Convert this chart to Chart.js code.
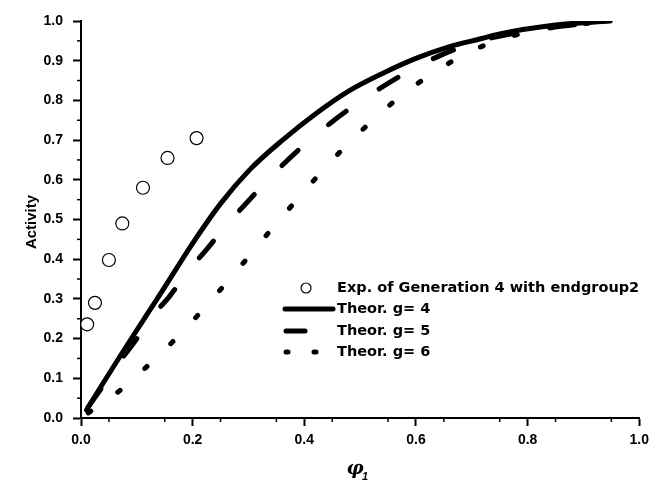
<!DOCTYPE html>
<html>
<head>
<meta charset="utf-8">
<script src="https://cdn.jsdelivr.net/npm/chart.js@4"></script>
<style>
  html, body { margin: 0; padding: 0; background: #fff; }
  #wrap { width: 655px; height: 487px; position: relative; }
</style>
</head>
<body>
<div id="wrap"><canvas id="my-chart" width="655" height="487"></canvas></div>
<script>
// experimental points
const expX = [0.011, 0.025, 0.05, 0.074, 0.111, 0.155, 0.207];
const expY = [0.236, 0.29, 0.398, 0.49, 0.58, 0.655, 0.705];

// theory curves
const g4X = [0.01, 0.022, 0.082, 0.141, 0.2, 0.25, 0.302, 0.361, 0.421, 0.48, 0.54, 0.6, 0.659, 0.718, 0.748, 0.85, 0.948];
const g4Y = [0.02, 0.048, 0.182, 0.31, 0.44, 0.54, 0.625, 0.7, 0.767, 0.824, 0.868, 0.906, 0.935, 0.956, 0.967, 0.99, 1.0];

const g5X = [0.013, 0.034, 0.067, 0.095, 0.126, 0.159, 0.192, 0.224, 0.263, 0.296, 0.36, 0.446, 0.532, 0.616, 0.7, 0.8, 0.948];
const g5Y = [0.028, 0.07, 0.138, 0.19, 0.254, 0.307, 0.371, 0.423, 0.49, 0.541, 0.636, 0.742, 0.827, 0.895, 0.944, 0.975, 1.0];

const g6X = [0.013, 0.065, 0.116, 0.167, 0.214, 0.257, 0.3, 0.342, 0.385, 0.43, 0.477, 0.528, 0.579, 0.63, 0.682, 0.732, 0.78, 0.85, 0.948];
const g6Y = [0.013, 0.064, 0.127, 0.196, 0.266, 0.335, 0.406, 0.477, 0.547, 0.619, 0.689, 0.757, 0.818, 0.868, 0.912, 0.944, 0.965, 0.985, 1.0];

const labels = ['Exp. of Generation 4 with endgroup2', 'Theor. g= 4', 'Theor. g= 5', 'Theor. g= 6'];
const xTitle = 'φ';
const yTitle = 'Activity';

const toPts = (xs, ys) => xs.map((x, i) => ({ x, y: ys[i] }));

const lineSet = (label, xs, ys, dash) => ({
  label,
  data: toPts(xs, ys),
  showLine: true,
  borderColor: '#000',
  borderWidth: 5,
  borderDash: dash,
  borderCapStyle: 'round',
  pointRadius: 0,
  cubicInterpolationMode: 'monotone',
  fill: false
});

// legend, minor ticks and axis titles drawn on the canvas
const extras = {
  id: 'extras',
  afterDraw(chart) {
    const ctx = chart.ctx;
    const xs = chart.scales.x, ys = chart.scales.y;
    ctx.save();
    ctx.strokeStyle = '#000';
    ctx.lineWidth = 1.5;
    // minor ticks
    for (let v = 0.05; v < 1; v += 0.1) {
      const px = xs.getPixelForValue(v);
      ctx.beginPath(); ctx.moveTo(px, xs.top); ctx.lineTo(px, xs.top + 4); ctx.stroke();
      const py = ys.getPixelForValue(v);
      ctx.beginPath(); ctx.moveTo(ys.right, py); ctx.lineTo(ys.right - 4, py); ctx.stroke();
    }

    // axis titles
    ctx.fillStyle = '#000';
    ctx.font = 'bold 15px "Liberation Sans", Arial, sans-serif';
    ctx.textAlign = 'center';
    ctx.textBaseline = 'middle';
    ctx.save();
    ctx.translate(32, 222);
    ctx.rotate(-Math.PI / 2);
    ctx.fillText(yTitle, 0, 0);
    ctx.restore();

    ctx.font = 'bold italic 19px "DejaVu Serif", serif';
    ctx.fillText(xTitle, 355, 469);
    ctx.font = 'bold italic 11px "Liberation Sans", Arial, sans-serif';
    ctx.fillText('1', 365, 477);

    // legend
    const rows = [288, 309, 331, 352];
    ctx.font = 'bold 14.5px "DejaVu Sans", Verdana, sans-serif';
    ctx.textAlign = 'left';
    chart.data.datasets.forEach((ds, i) => {
      const y = rows[i];
      ctx.fillText(ds.label, 337, y);
      ctx.lineWidth = 5;
      ctx.lineCap = 'round';
      if (i === 0) {
        ctx.lineWidth = 1.2;
        ctx.beginPath(); ctx.arc(306, y, 5, 0, Math.PI * 2); ctx.fillStyle = '#fff'; ctx.fill(); ctx.stroke();
        ctx.fillStyle = '#000';
      } else if (i === 1) {
        ctx.beginPath(); ctx.moveTo(285, y); ctx.lineTo(333, y); ctx.stroke();
      } else if (i === 2) {
        ctx.beginPath(); ctx.moveTo(286, y); ctx.lineTo(305, y); ctx.stroke();
      } else {
        ctx.beginPath(); ctx.moveTo(286, y); ctx.lineTo(288, y); ctx.stroke();
        ctx.beginPath(); ctx.moveTo(314, y); ctx.lineTo(316, y); ctx.stroke();
      }
    });
    ctx.restore();
  }
};

const ctx = document.getElementById('my-chart').getContext('2d');

const tickFont = { family: '"Liberation Sans", Arial, sans-serif', size: 14, weight: 'bold' };

new Chart(ctx, {
  type: 'scatter',
  data: {
    datasets: [
      {
        label: labels[0],
        data: toPts(expX, expY),
        pointRadius: 6.5,
        pointBorderWidth: 1.2,
        pointBorderColor: '#000',
        pointBackgroundColor: '#fff',
        showLine: false
      },
      lineSet(labels[1], g4X, g4Y, []),
      lineSet(labels[2], g5X, g5Y, [22, 40]),
      lineSet(labels[3], g6X, g6Y, [3, 33])
    ]
  },
  options: {
    responsive: false,
    animation: false,
    layout: { padding: { left: 0, right: 14, top: 21, bottom: 0 } },
    plugins: { legend: { display: false }, tooltip: { enabled: false } },
    scales: {
      x: {
        type: 'linear',
        min: 0, max: 1,
        afterFit: (s) => { s.height = 69; },
        border: { display: true, color: '#000', width: 2 },
        grid: { drawOnChartArea: false, drawTicks: true, tickLength: 8, tickWidth: 2, tickColor: '#000' },
        ticks: { stepSize: 0.2, color: '#000', font: tickFont, padding: 6, callback: v => v.toFixed(1) }
      },
      y: {
        type: 'linear',
        min: 0, max: 1,
        afterFit: (s) => { s.width = 81; },
        border: { display: true, color: '#000', width: 2 },
        grid: { drawOnChartArea: false, drawTicks: true, tickLength: 8, tickWidth: 2, tickColor: '#000' },
        ticks: { stepSize: 0.1, color: '#000', font: tickFont, padding: 10, callback: v => v.toFixed(1) }
      }
    }
  },
  plugins: [extras]
});
</script>
</body>
</html>
